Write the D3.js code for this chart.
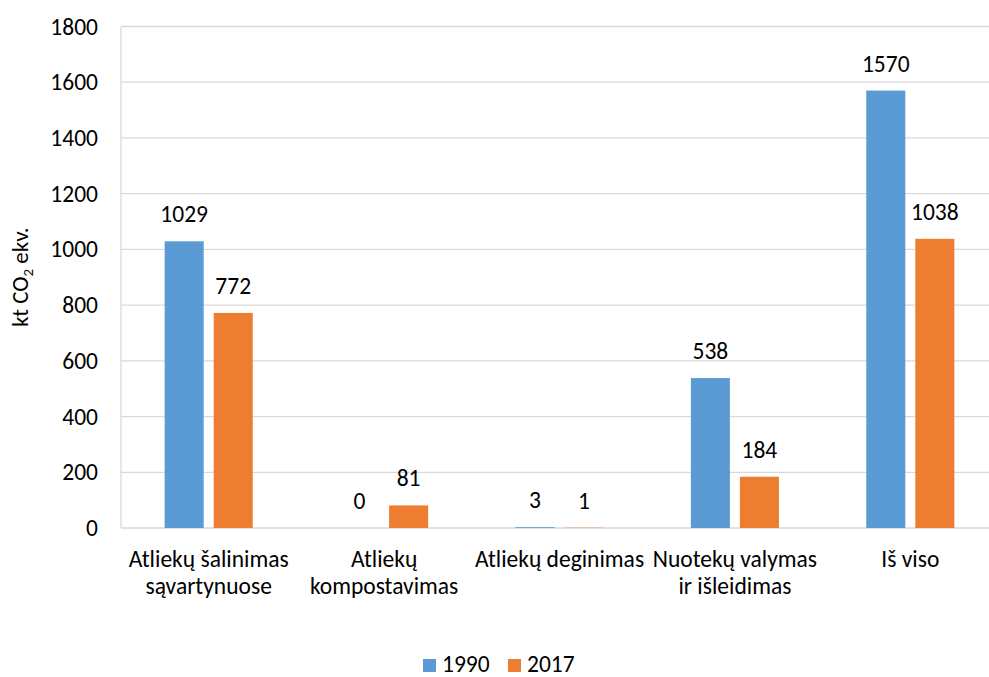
<!DOCTYPE html>
<html lang="lt">
<head>
<meta charset="UTF-8">
<script src="https://cdn.jsdelivr.net/npm/d3@7"></script>
<style>
    body { margin: 0; background: #fff; }
    svg { display: block; font-family: Carlito, Lato, sans-serif; }
</style>
</head>
<body>
<svg width="989" height="677"></svg>
<script>
    var categories = ["Atliekų šalinimas\nsąvartynuose", "Atliekų\nkompostavimas", "Atliekų deginimas", "Nuotekų valymas\nir išleidimas", "Iš viso"];
    var series = ["1990", "2017"];
    var values1990 = [1029, 0, 3, 538, 1570];
    var values2017 = [772, 81, 1, 184, 1038];
    var yTicks = [0, 200, 400, 600, 800, 1000, 1200, 1400, 1600, 1800];
    var colors = ["#5B9BD5", "#ED7D31"];

    var svg = d3.select("svg");
    var plot = {left: 121, right: 998, top: 26.5, bottom: 528};
    var fs = 23.5;

    var x = d3.scaleBand().domain(categories).range([plot.left, plot.right]);
    var xs = d3.scaleBand().domain(series).range([0, x.bandwidth()]).paddingInner(0.204).paddingOuter(0.89);
    var y = d3.scaleLinear().domain([0, 1800]).range([plot.bottom, plot.top]);

    // gridlines
    svg.append("g").selectAll("line")
        .data(yTicks)
        .enter().append("line")
        .attr("x1", plot.left).attr("x2", plot.right)
        .attr("y1", function (d) { return y(d); })
        .attr("y2", function (d) { return y(d); })
        .attr("stroke", "#d9d9d9").attr("stroke-width", 1.3);

    svg.append("line")
        .attr("x1", plot.left).attr("x2", plot.left)
        .attr("y1", plot.top).attr("y2", plot.bottom)
        .attr("stroke", "#d9d9d9").attr("stroke-width", 1.3);

    // y axis labels
    var yAxis = svg.append("g")
        .attr("transform", "translate(" + plot.left + ",0)")
        .call(d3.axisLeft(y).tickValues(yTicks).tickSize(0).tickPadding(23).tickFormat(d3.format("d")));
    yAxis.select(".domain").remove();
    yAxis.selectAll("text")
        .attr("font-size", fs).attr("fill", "#000")
        .style("font-family", "Carlito, Lato, sans-serif");

    var title = svg.append("text")
        .attr("transform", "translate(28," + ((plot.top + plot.bottom) / 2) + ") rotate(-90)")
        .attr("text-anchor", "middle")
        .attr("font-size", 23);
    title.append("tspan").text("kt CO");
    title.append("tspan").text("2").attr("font-size", 15).attr("dy", 5);
    title.append("tspan").text(" ekv.").attr("dy", -5);

    // bars
    var data = [];
    categories.forEach(function (c, i) {
        data.push({cat: c, s: "1990", v: values1990[i], color: colors[0]});
        data.push({cat: c, s: "2017", v: values2017[i], color: colors[1]});
    });

    svg.append("g").selectAll("rect")
        .data(data)
        .enter().append("rect")
        .attr("x", function (d) { return x(d.cat) + xs(d.s); })
        .attr("y", function (d) { return y(d.v); })
        .attr("width", xs.bandwidth())
        .attr("height", function (d) { return y(0) - y(d.v); })
        .attr("fill", function (d) { return d.color; });

    svg.append("g").selectAll("text")
        .data(data)
        .enter().append("text")
        .attr("x", function (d) { return x(d.cat) + xs(d.s) + xs.bandwidth() / 2; })
        .attr("y", function (d) { return y(d.v) - 19; })
        .attr("text-anchor", "middle")
        .attr("font-size", fs)
        .text(function (d) { return d.v; });

    // category labels
    svg.append("g").selectAll("text")
        .data(categories)
        .enter().append("text")
        .attr("x", function (d) { return x(d) + x.bandwidth() / 2; })
        .attr("y", 566.5)
        .attr("text-anchor", "middle")
        .attr("font-size", fs)
        .each(function (d) {
            var t = d3.select(this);
            d.split("\n").forEach(function (line, k) {
                t.append("tspan")
                    .attr("x", x(d) + x.bandwidth() / 2)
                    .attr("dy", k === 0 ? 0 : 27)
                    .text(line);
            });
        });

    // legend
    var legend = svg.append("g").selectAll("g")
        .data(series)
        .enter().append("g")
        .attr("transform", function (d, i) { return "translate(" + (423 + i * 85) + ",0)"; });
    legend.append("rect")
        .attr("x", 0).attr("y", 659)
        .attr("width", 13).attr("height", 13)
        .attr("fill", function (d, i) { return colors[i]; });
    legend.append("text")
        .attr("x", 19).attr("y", 672)
        .attr("font-size", fs)
        .text(function (d) { return d; });
</script>
</body>
</html>
